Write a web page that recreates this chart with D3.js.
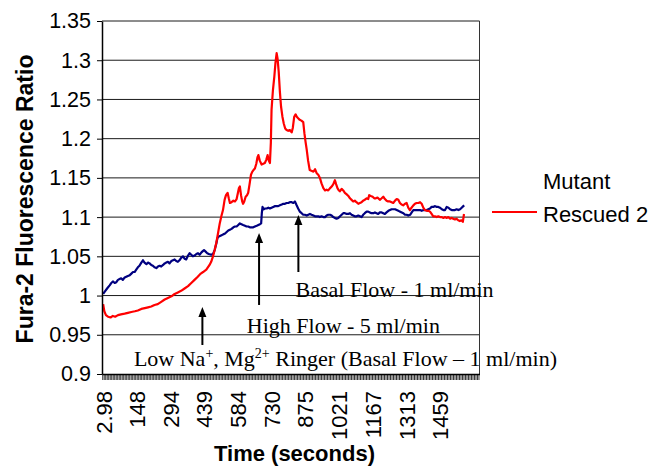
<!DOCTYPE html>
<html>
<head>
<meta charset="utf-8">
<script src="https://cdn.jsdelivr.net/npm/d3@7/dist/d3.min.js"></script>
<style>
  body { margin: 0; background: #fff; }
  svg { display: block; }
</style>
</head>
<body>
<svg id="chart" width="660" height="468"></svg>
<script>
// Y axis: Fura-2 ratio ticks
const yTicks = [0.9, 0.95, 1, 1.05, 1.1, 1.15, 1.2, 1.25, 1.3, 1.35];
const yTickLabels = ["0.9", "0.95", "1", "1.05", "1.1", "1.15", "1.2", "1.25", "1.3", "1.35"];

// X axis: time in seconds (every 100th sample labelled)
const xTickValues = [2.98, 148, 294, 439, 584, 730, 875, 1021, 1167, 1313, 1459];
const xTickLabels = ["2.98", "148", "294", "439", "584", "730", "875", "1021", "1167", "1313", "1459"];

// Mutant Rescued 2 (red trace)
const redTime = [3,8,15,24,35,45,55,67,80,96,110,125,140,153,168,183,197,211,225,239,254,269,283,298,312,326,340,355,370,384,398,412,425,435,449,463,470,478,485,492,500,507,514,521,528,534,541,546,551,558,566,573,580,585,590,594,599,604,608,613,619,625,630,636,642,648,653,659,665,670,674,680,688,695,702,708,714,719,724,728,731,737,743,748,753,757,762,767,772,778,784,790,796,803,810,818,823,829,835,840,846,853,860,868,873,878,883,889,896,903,912,919,926,933,940,947,955,962,969,976,984,991,998,1005,1010,1016,1022,1027,1034,1041,1048,1056,1063,1070,1077,1084,1091,1098,1106,1113,1120,1127,1134,1142,1149,1153,1160,1168,1175,1182,1189,1199,1207,1214,1221,1228,1235,1243,1250,1257,1265,1272,1279,1286,1293,1300,1308,1315,1322,1329,1336,1344,1351,1358,1366,1373,1380,1387,1394,1402,1409,1416,1423,1430,1437,1445,1452,1459,1466,1474,1481,1488,1495,1503,1510,1516,1524,1531,1538,1545,1552,1558,1563];
const redRatio = [0.989,0.980,0.975,0.973,0.972,0.974,0.973,0.975,0.976,0.977,0.978,0.979,0.980,0.981,0.983,0.984,0.985,0.986,0.988,0.989,0.992,0.995,0.997,0.999,1.002,1.004,1.006,1.009,1.012,1.016,1.020,1.024,1.028,1.030,1.033,1.039,1.043,1.050,1.058,1.067,1.080,1.092,1.101,1.109,1.122,1.128,1.131,1.124,1.118,1.119,1.121,1.120,1.123,1.130,1.137,1.139,1.128,1.120,1.117,1.120,1.126,1.128,1.131,1.142,1.154,1.158,1.160,1.162,1.168,1.176,1.179,1.172,1.167,1.168,1.169,1.173,1.179,1.172,1.169,1.195,1.237,1.262,1.279,1.297,1.309,1.302,1.285,1.260,1.241,1.228,1.219,1.213,1.211,1.210,1.211,1.208,1.214,1.228,1.231,1.228,1.226,1.224,1.223,1.221,1.207,1.196,1.186,1.172,1.160,1.159,1.158,1.161,1.156,1.154,1.150,1.143,1.137,1.134,1.135,1.134,1.137,1.139,1.142,1.147,1.142,1.137,1.134,1.133,1.136,1.134,1.131,1.129,1.127,1.124,1.122,1.120,1.121,1.119,1.117,1.118,1.119,1.121,1.122,1.124,1.123,1.128,1.127,1.126,1.124,1.124,1.125,1.122,1.124,1.126,1.123,1.121,1.120,1.120,1.119,1.118,1.121,1.123,1.122,1.118,1.116,1.115,1.117,1.118,1.112,1.109,1.112,1.115,1.117,1.118,1.118,1.119,1.117,1.112,1.109,1.108,1.108,1.107,1.104,1.101,1.101,1.100,1.101,1.100,1.100,1.099,1.100,1.099,1.100,1.098,1.099,1.098,1.097,1.098,1.096,1.095,1.096,1.094,1.104];

// Second trace (navy)
const blueTime = [3,10,20,31,38,46,53,60,67,74,81,88,96,103,110,118,125,132,139,146,153,160,168,175,182,190,197,204,211,218,225,233,240,247,254,262,269,276,283,290,298,305,312,319,326,333,340,348,355,362,370,377,384,391,398,406,413,420,428,435,439,446,453,460,470,478,485,492,497,501,508,515,522,530,537,544,551,558,566,573,580,587,594,601,608,616,623,630,637,645,652,659,667,674,681,686,689,692,697,703,710,717,724,731,738,746,753,760,767,775,782,789,796,803,810,818,825,832,838,846,853,861,868,875,883,890,897,904,912,919,926,933,940,947,955,962,969,976,984,991,998,1005,1012,1020,1027,1034,1041,1048,1056,1063,1070,1077,1084,1091,1098,1106,1113,1120,1127,1134,1142,1149,1156,1163,1171,1178,1185,1192,1199,1207,1214,1221,1228,1236,1243,1250,1257,1265,1272,1279,1286,1294,1301,1308,1315,1322,1330,1337,1344,1351,1358,1366,1373,1380,1388,1395,1402,1409,1416,1423,1430,1438,1445,1452,1459,1467,1474,1481,1488,1496,1503,1510,1517,1524,1531,1539,1546,1553,1560,1564];
const blueRatio = [1.002,1.005,1.009,1.013,1.016,1.018,1.016,1.017,1.020,1.021,1.022,1.020,1.023,1.024,1.025,1.026,1.028,1.030,1.030,1.033,1.036,1.038,1.042,1.045,1.042,1.040,1.042,1.041,1.039,1.038,1.036,1.035,1.037,1.038,1.037,1.039,1.041,1.042,1.043,1.041,1.044,1.045,1.046,1.044,1.043,1.045,1.048,1.050,1.047,1.046,1.051,1.054,1.052,1.050,1.051,1.053,1.054,1.052,1.055,1.057,1.058,1.056,1.054,1.053,1.052,1.053,1.058,1.066,1.073,1.075,1.076,1.077,1.078,1.079,1.081,1.083,1.084,1.085,1.087,1.088,1.088,1.090,1.092,1.091,1.090,1.089,1.088,1.088,1.087,1.087,1.087,1.088,1.089,1.090,1.091,1.092,1.105,1.113,1.110,1.111,1.111,1.112,1.111,1.112,1.113,1.114,1.114,1.114,1.115,1.116,1.117,1.117,1.118,1.118,1.119,1.119,1.118,1.120,1.116,1.111,1.107,1.105,1.103,1.103,1.102,1.103,1.104,1.103,1.102,1.101,1.101,1.101,1.100,1.101,1.100,1.100,1.102,1.103,1.103,1.102,1.100,1.099,1.098,1.099,1.101,1.103,1.105,1.105,1.104,1.104,1.105,1.103,1.102,1.101,1.101,1.102,1.101,1.100,1.103,1.105,1.107,1.107,1.106,1.105,1.105,1.106,1.105,1.104,1.106,1.106,1.105,1.104,1.106,1.108,1.109,1.110,1.110,1.110,1.109,1.108,1.107,1.106,1.105,1.103,1.103,1.102,1.103,1.106,1.109,1.109,1.109,1.109,1.109,1.108,1.109,1.109,1.109,1.110,1.111,1.113,1.113,1.114,1.113,1.113,1.112,1.110,1.109,1.109,1.113,1.112,1.110,1.109,1.109,1.109,1.110,1.109,1.110,1.112,1.114,1.115];

// Legend text
const legendLines = ["Mutant", "Rescued 2"];

// Protocol arrows: time, tip ratio, tail ratio
const arrowTime = [432, 677, 847];
const arrowTip = [0.9854, 1.0798, 1.1027];
const arrowTail = [0.937, 0.988, 1.030];

// Protocol notes: anchor time and baseline ratio
const noteTime = [136, 624, 835];
const noteRatio = [0.9102, 0.9519, 0.9985];

const svg = d3.select("#chart");
const sans = "'Liberation Sans', Arial, sans-serif";
const serif = "'Liberation Serif', 'Times New Roman', serif";

const x = d3.scaleLinear().domain([-2, 1630]).range([102, 479.5]);
const y = d3.scaleLinear().domain([0.9, 1.35]).range([374, 21]);
const [x0, x1] = x.range();

// gridlines (top one doubles as the frame)
svg.append("g").selectAll("line").data(yTicks.slice(1)).join("line")
  .attr("x1", x0).attr("x2", x1)
  .attr("y1", d => y(d)).attr("y2", d => y(d))
  .attr("stroke", "#1a1a1a").attr("stroke-width", 1);

// right frame edge
svg.append("line").attr("x1", x1).attr("x2", x1).attr("y1", y(1.35)).attr("y2", y(0.9))
  .attr("stroke", "#333").attr("stroke-width", 1);

// traces
const line = d3.line().x(d => x(d[0])).y(d => y(d[1]));
svg.append("path").datum(d3.zip(blueTime, blueRatio))
  .attr("d", line).attr("fill", "none").attr("stroke", "#000080")
  .attr("stroke-width", 2.2).attr("stroke-linejoin", "round");
svg.append("path").datum(d3.zip(redTime, redRatio))
  .attr("d", line).attr("fill", "none").attr("stroke", "#ff0000")
  .attr("stroke-width", 2.2).attr("stroke-linejoin", "round");

// y axis
const yAxis = svg.append("g").attr("transform", `translate(${x0},0)`)
  .call(d3.axisLeft(y).tickValues(yTicks).tickFormat((d, i) => yTickLabels[i])
    .tickSize(5).tickSizeOuter(0).tickPadding(6));
yAxis.select(".domain").attr("stroke", "#000").attr("stroke-width", 1.5);
yAxis.selectAll(".tick line").attr("stroke", "#000");
yAxis.selectAll("text").attr("font-family", sans).attr("font-size", 21.5).attr("fill", "#000");

// x axis: dense category tick hatch
const hatch = d3.range(x.domain()[0] + 1, x.domain()[1], 6.48);
const xHatch = svg.append("g").attr("transform", `translate(0,${y(0.9)})`)
  .call(d3.axisBottom(x).tickValues(hatch).tickFormat("").tickSize(6).tickSizeOuter(0));
xHatch.select(".domain").attr("stroke", "#000").attr("stroke-width", 1.5);
xHatch.selectAll(".tick line").attr("stroke", "#000").attr("stroke-width", 0.8);

// x axis labels (rotated)
const xLab = svg.append("g").attr("transform", `translate(0,${y(0.9)})`)
  .call(d3.axisBottom(x).tickValues(xTickValues).tickFormat((d, i) => xTickLabels[i]).tickSize(0));
xLab.select(".domain").remove();
xLab.selectAll("text")
  .attr("font-family", sans).attr("font-size", 22).attr("fill", "#000")
  .attr("transform", "rotate(-90)")
  .attr("text-anchor", "end")
  .attr("x", -17).attr("y", 0).attr("dy", "0.36em");

// axis titles
svg.append("text").attr("transform", "translate(33,199) rotate(-90)")
  .attr("text-anchor", "middle").attr("font-family", sans).attr("font-weight", "bold")
  .attr("font-size", 23).text("Fura-2 Fluorescence Ratio");
svg.append("text").attr("x", 294.5).attr("y", 461)
  .attr("text-anchor", "middle").attr("font-family", sans).attr("font-weight", "bold")
  .attr("font-size", 22).text("Time (seconds)");

// legend
svg.append("line").attr("x1", 492).attr("x2", 537).attr("y1", 212).attr("y2", 212)
  .attr("stroke", "#ff0000").attr("stroke-width", 2);
svg.append("g").selectAll("text").data(legendLines).join("text")
  .attr("x", 543).attr("y", (d, i) => 189 + i * 32.5)
  .attr("font-family", sans).attr("font-size", 22).text(d => d);

// arrows
svg.append("g").selectAll("line").data(arrowTime).join("line")
  .attr("x1", d => x(d)).attr("x2", d => x(d))
  .attr("y1", (d, i) => y(arrowTail[i])).attr("y2", (d, i) => y(arrowTip[i]) + 8)
  .attr("stroke", "#000").attr("stroke-width", 2);
svg.append("g").selectAll("path").data(arrowTime).join("path")
  .attr("d", (d, i) => {
    const px = x(d), py = y(arrowTip[i]);
    return `M${px},${py} L${px - 4},${py + 10} L${px + 4},${py + 10} Z`;
  })
  .attr("fill", "#000");

// protocol notes
const notes = svg.append("g").attr("font-family", serif).attr("font-size", 22).attr("fill", "#000");
notes.append("text").attr("x", x(noteTime[2])).attr("y", y(noteRatio[2])).text("Basal Flow - 1 ml/min");
notes.append("text").attr("x", x(noteTime[1])).attr("y", y(noteRatio[1])).text("High Flow - 5 ml/min");
const low = notes.append("text").attr("x", x(noteTime[0])).attr("y", y(noteRatio[0]));
low.append("tspan").text("Low Na");
low.append("tspan").attr("font-size", 14).attr("dy", -8).text("+");
low.append("tspan").attr("dy", 8).text(", Mg");
low.append("tspan").attr("font-size", 14).attr("dy", -8).text("2+");
low.append("tspan").attr("dy", 8).text(" Ringer (Basal Flow \u2013 1 ml/min)");
</script>
</body>
</html>
